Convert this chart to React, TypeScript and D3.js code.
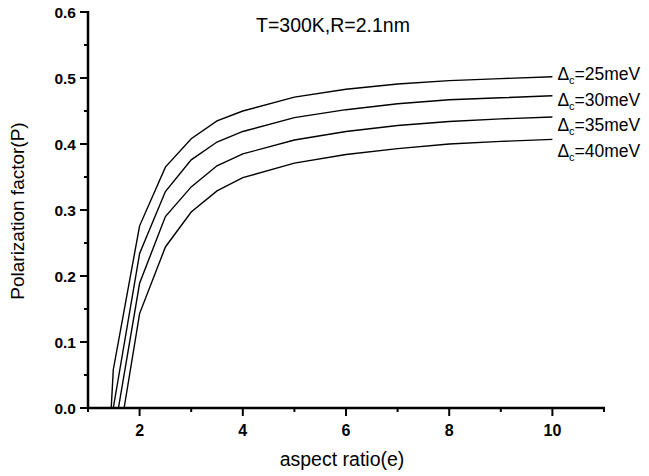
import React from "react";
import * as d3 from "d3";

// aspect ratio (e) vs polarization factor P
const ePts25 = [1.45, 1.49, 2, 2.5, 3, 3.5, 4, 5, 6, 7, 8, 9, 10];
const p25 = [0, 0.058, 0.276, 0.365, 0.408, 0.435, 0.45, 0.471, 0.483, 0.491, 0.496, 0.499, 0.502];
const ePts30 = [1.49, 2, 2.5, 3, 3.5, 4, 5, 6, 7, 8, 9, 10];
const p30 = [0, 0.234, 0.328, 0.376, 0.403, 0.419, 0.44, 0.452, 0.461, 0.467, 0.47, 0.473];
const ePts35 = [1.59, 2, 2.5, 3, 3.5, 4, 5, 6, 7, 8, 9, 10];
const p35 = [0, 0.189, 0.29, 0.335, 0.367, 0.385, 0.406, 0.419, 0.428, 0.434, 0.438, 0.441];
const ePts40 = [1.7, 2, 2.5, 3, 3.5, 4, 5, 6, 7, 8, 9, 10];
const p40 = [0, 0.143, 0.244, 0.297, 0.329, 0.349, 0.371, 0.384, 0.393, 0.4, 0.404, 0.407];

const seriesLabels = ["25meV", "30meV", "35meV", "40meV"];
const labelOffsets = [3, 10, 14, 18]; // baseline shift below the line end, so labels stack apart

const xMajor = [2, 4, 6, 8, 10];
const xMinor = [1, 3, 5, 7, 9, 11];
const yMajor = [0, 0.1, 0.2, 0.3, 0.4, 0.5, 0.6];
const yMinor = [0.05, 0.15, 0.25, 0.35, 0.45, 0.55];

const title = "T=300K,R=2.1nm";
const xTitle = "aspect ratio(e)";
const yTitle = "Polarization factor(P)";

const W = 649, H = 476;
const font = "Arial, 'Liberation Sans', Helvetica, sans-serif";

export default function App() {
  const x = d3.scaleLinear().domain([1, 11]).range([88, 604]);
  const y = d3.scaleLinear().domain([0, 0.6]).range([408, 12]);

  const series = [
    ePts25.map((e, i) => [e, p25[i]]),
    ePts30.map((e, i) => [e, p30[i]]),
    ePts35.map((e, i) => [e, p35[i]]),
    ePts40.map((e, i) => [e, p40[i]]),
  ];
  const line = d3.line<number[]>().x(d => x(d[0])).y(d => y(d[1]));

  const x0 = x.range()[0], y0 = y.range()[0];

  return (
    <svg width={W} height={H} style={{ position: "absolute", left: 0, top: 0, background: "#fff" }}
      fontFamily={font}>
      <rect width={W} height={H} fill="#fff" />
      {series.map((s, i) => (
        <path key={i} d={line(s) || ""} fill="none" stroke="#000" strokeWidth={1.4} />
      ))}

      {/* y axis */}
      <line x1={x0} x2={x0} y1={y(0.6) - 1} y2={y0 + 1} stroke="#000" strokeWidth={2.5} />
      {yMajor.map(v => (
        <g key={v}>
          <line x1={x0 - 8} x2={x0} y1={y(v)} y2={y(v)} stroke="#000" strokeWidth={2} />
          <text x={x0 - 12} y={y(v)} dy="0.36em" textAnchor="end" fontSize={15.5} fontWeight="bold">
            {v.toFixed(1)}
          </text>
        </g>
      ))}
      {yMinor.map(v => (
        <line key={v} x1={x0 - 4} x2={x0} y1={y(v)} y2={y(v)} stroke="#000" strokeWidth={2} />
      ))}

      {/* x axis */}
      <line x1={x0 - 1} x2={x(11) + 1} y1={y0} y2={y0} stroke="#000" strokeWidth={2.5} />
      {xMajor.map(v => (
        <g key={v}>
          <line x1={x(v)} x2={x(v)} y1={y0} y2={y0 + 8} stroke="#000" strokeWidth={2} />
          <text x={x(v)} y={y0 + 28} textAnchor="middle" fontSize={16} fontWeight="bold">{v}</text>
        </g>
      ))}
      {xMinor.map(v => (
        <line key={v} x1={x(v)} x2={x(v)} y1={y0} y2={y0 + 4} stroke="#000" strokeWidth={2} />
      ))}

      {/* titles */}
      <text x={333} y={y(0.6) + 20} textAnchor="middle" fontSize={19.5}>{title}</text>
      <text x={342} y={466} textAnchor="middle" fontSize={19.5}>{xTitle}</text>
      <text transform={`translate(24,${211}) rotate(-90)`} textAnchor="middle" fontSize={19}>
        {yTitle}
      </text>

      {/* series labels */}
      {series.map((s, i) => {
        const last = s[s.length - 1];
        return (
          <text key={i} x={x(last[0]) + 5} y={y(last[1]) + labelOffsets[i]} fontSize={17.5}>
            Δ<tspan dy={4} fontSize={11}>c</tspan><tspan dy={-4}>={seriesLabels[i]}</tspan>
          </text>
        );
      })}
    </svg>
  );
}
